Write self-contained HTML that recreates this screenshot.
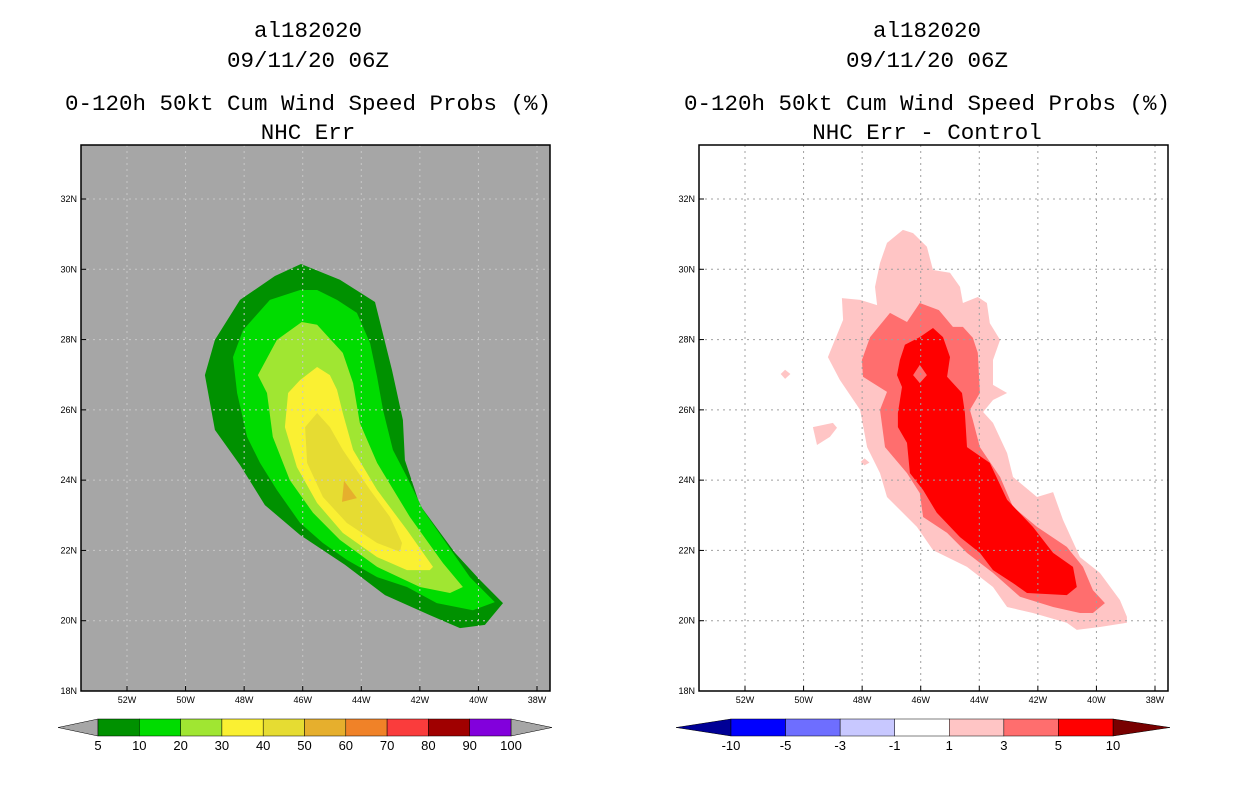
<!DOCTYPE html>
<html><head><meta charset="utf-8"><style>
body{margin:0;background:#fff;width:1236px;height:800px;overflow:hidden}
svg{display:block}
.t{font-family:"Liberation Mono",monospace;font-size:22.5px;fill:#000;text-anchor:middle}
.k{font-family:"Liberation Sans",sans-serif;font-size:9px;fill:#000}
.c{font-family:"Liberation Sans",sans-serif;font-size:13px;fill:#000;text-anchor:middle}
</style></head><body>
<svg id="s" width="1236" height="800">
<text class="t" x="308" y="37">al182020</text>
<text class="t" x="308" y="67">09/11/20 06Z</text>
<text class="t" x="308" y="110">0-120h 50kt Cum Wind Speed Probs (%)</text>
<text class="t" x="308" y="139">NHC Err</text>
<text class="t" x="927" y="37">al182020</text>
<text class="t" x="927" y="67">09/11/20 06Z</text>
<text class="t" x="927" y="110">0-120h 50kt Cum Wind Speed Probs (%)</text>
<text class="t" x="927" y="139">NHC Err - Control</text>
</svg>
<script>
// longitudes in degrees W, latitudes in degrees N
const lonTicks=[52,50,48,46,44,42,40,38];
const latTicks=[32,30,28,26,24,22,20,18];
const leftLevels=["5","10","20","30","40","50","60","70","80","90","100"];
const leftColors=["#009100","#00dc00","#a0e632","#faf032","#e6dc32","#e6af2d","#f08228","#fa3c3c","#a00000","#8200dc"];
const rightLevels=["-10","-5","-3","-1","1","3","5","10"];
const rightColors=["#0000ff","#6e6eff","#c8c8ff","#ffffff","#ffc5c5","#ff6e6e","#ff0000"];
const p5Lon=[46.06,46.95,48.14,49.0,49.34,49.0,48.14,47.29,46.09,44.56,43.19,41.66,40.63,39.78,39.16,39.95,40.8,42.0,42.51,42.58,42.95,43.53,44.73];
const p5Lat=[30.15,29.81,29.13,27.99,26.99,25.43,24.43,23.29,22.44,21.59,20.73,20.16,19.79,19.88,20.5,21.16,21.93,23.29,24.57,25.71,27.13,29.07,29.7];
const p10Lon=[46.09,47.12,48.04,48.38,48.24,47.9,47.46,46.88,46.09,45.31,44.49,43.46,42.44,41.42,40.19,39.44,40.29,41.89,42.44,42.92,43.26,43.46,43.7,44.15,44.83,45.51];
const p10Lat=[29.41,29.13,28.27,27.5,26.48,25.23,24.49,23.72,22.78,22.21,21.73,21.24,20.96,20.5,20.3,20.53,21.24,23.15,24.09,24.86,26.0,26.94,27.9,28.76,29.13,29.41];
const p20Lon=[46.03,46.88,47.53,47.22,47.02,46.44,45.65,44.73,43.46,42.0,40.97,40.53,41.21,42.34,43.46,44.05,44.28,44.63,45.51];
const p20Lat=[28.5,27.99,26.99,26.48,25.23,24.0,23.07,22.3,21.53,20.96,20.79,20.96,21.64,22.95,24.49,25.63,26.76,27.62,28.42];
const p30Lon=[45.51,46.09,46.5,46.61,46.2,45.51,44.63,43.46,42.44,41.66,41.55,42.44,43.46,44.28,44.63,44.83,45.07];
const p30Lat=[27.22,26.85,26.48,25.51,24.37,23.35,22.5,21.81,21.44,21.44,21.53,22.58,23.72,24.86,25.91,26.57,26.99];
const p40Lon=[45.51,45.92,45.85,45.31,44.49,43.46,42.68,42.61,43.02,43.7,44.63,45.07];
const p40Lat=[25.91,25.51,24.49,23.52,22.78,22.21,21.96,22.21,22.95,23.72,24.86,25.51];
const p50Lon=[44.59,44.66,44.15];
const p50Lat=[23.98,23.38,23.49];
const d1Lon=[46.61,47.15,47.39,47.56,47.49,48.07,48.69,48.65,49.17,48.76,48.07,47.83,47.39,47.15,46.13,45.58,44.42,43.53,43.05,42.17,41.01,40.67,39.88,38.96,38.96,39.2,39.88,40.56,41.14,41.48,42.03,42.85,43.05,43.53,43.87,43.53,43.05,43.53,43.53,43.29,43.64,43.74,44.05,44.56,44.66,45.0,45.58,45.79,46.26];
const d1Lat=[31.12,30.75,30.18,29.5,28.98,29.13,29.18,28.56,27.5,26.85,26.0,24.94,24.2,23.52,22.67,22.01,21.53,20.96,20.39,20.22,19.94,19.74,19.82,19.94,20.11,20.59,21.36,21.81,22.87,23.66,23.52,24.09,24.77,25.63,25.94,26.28,26.48,26.71,27.42,27.99,28.47,29.04,29.21,29.04,29.5,29.9,29.98,30.64,31.03];
const b1Lon=[49.68,49.0,48.86,49.1,49.54];
const b1Lat=[25.51,25.63,25.49,25.23,25.0];
const b2Lon=[50.78,50.63,50.45,50.63];
const b2Lat=[27.02,27.14,27.02,26.88];
const b3Lon=[48.05,47.92,47.75,47.92];
const b3Lat=[24.52,24.62,24.5,24.42];
const d3Lon=[46.03,46.47,47.05,47.73,48.01,47.97,47.15,47.39,47.22,46.47,46.03,45.92,45.1,44.42,43.53,42.61,41.48,40.56,40.12,39.71,40.12,40.46,41.01,42.03,42.85,43.29,43.98,44.22,44.32,43.98,44.05,44.22,44.56,44.9,45.38];
const d3Lat=[29.04,28.5,28.76,28.07,27.42,26.94,26.51,26.0,24.94,24.2,23.63,22.95,22.5,21.93,21.36,20.68,20.39,20.22,20.22,20.5,20.87,21.53,22.1,22.67,23.24,24.09,24.94,25.71,26.0,26.48,27.62,28.05,28.36,28.36,28.84];
const d5Lon=[45.58,46.03,46.54,46.71,46.81,46.64,46.78,46.78,46.47,46.37,45.92,45.45,44.66,43.98,43.53,42.85,42.37,41.01,40.67,40.8,41.48,42.17,43.05,43.64,44.42,44.49,44.59,45.1,45.0,45.24];
const d5Lat=[28.33,28.07,27.85,27.42,26.99,26.65,25.91,25.51,25.06,24.2,23.72,23.07,22.38,21.93,21.44,21.07,20.79,20.73,20.96,21.53,21.93,22.67,23.44,24.49,24.94,25.91,26.48,26.94,27.5,28.07];
const hLon=[46.03,46.26,46.03,45.79];
const hLat=[27.28,26.99,26.76,26.99];

const NS='http://www.w3.org/2000/svg';
const svg=document.getElementById('s');
function el(tag,attrs,parent){const e=document.createElementNS(NS,tag);for(const k in attrs)e.setAttribute(k,attrs[k]);(parent||svg).appendChild(e);return e;}
const PX=410/14, PY=492/14;
function mkx(x0){return lon=>x0+(52-lon)*PX;}
const yS=lat=>691-(lat-18)*PY;
function poly(g,xS,lons,lats,fill,name){
  const pts=lons.map((l,i)=>xS(l).toFixed(1)+','+yS(lats[i]).toFixed(1)).join(' ');
  const p=el('polygon',{points:pts,fill:fill},g);
  
  
}
function panel(x0,bg,gridCol,prefix,layers){
  const xS=mkx(x0+46);
  const g=el('g',{});
  
  
  el('rect',{x:x0,y:145,width:469,height:546,fill:bg},g);
  layers.forEach(L=>poly(g,xS,L[0],L[1],L[2],L[3]));
  lonTicks.forEach(l=>{
    const ln=el('line',{x1:xS(l),x2:xS(l),y1:145,y2:691,stroke:gridCol,'stroke-width':1,'stroke-dasharray':'2,4'},g);
    
    
    const t=el('text',{x:xS(l),y:703,class:'k','text-anchor':'middle'},g);t.textContent=l+'W';
    
    
    el('line',{x1:xS(l),x2:xS(l),y1:691,y2:686,stroke:'#000'},g);
  });
  latTicks.forEach(l=>{
    if(l>18){const ln=el('line',{x1:x0,x2:x0+469,y1:yS(l),y2:yS(l),stroke:gridCol,'stroke-width':1,'stroke-dasharray':'2,4'},g);
    
    }
    const t=el('text',{x:x0-4,y:yS(l)+3,class:'k','text-anchor':'end'},g);t.textContent=l+'N';
    
    
    el('line',{x1:x0,x2:x0+5,y1:yS(l),y2:yS(l),stroke:'#000'},g);
  });
  const fr=el('rect',{x:x0,y:145,width:469,height:546,fill:'none',stroke:'#000','stroke-width':1.5},g);
  
  
}
panel(81,'#a6a6a6','#c8c8c8','left',[
 [p5Lon,p5Lat,leftColors[0],'contour-5'],[p10Lon,p10Lat,leftColors[1],'contour-10'],[p20Lon,p20Lat,leftColors[2],'contour-20'],
 [p30Lon,p30Lat,leftColors[3],'contour-30'],[p40Lon,p40Lat,leftColors[4],'contour-40'],[p50Lon,p50Lat,leftColors[5],'contour-50']]);
panel(699,'#ffffff','#a0a0a0','right',[
 [d1Lon,d1Lat,rightColors[4],'diff-contour-1'],[b1Lon,b1Lat,rightColors[4],'diff-blob-1'],[b2Lon,b2Lat,rightColors[4],'diff-blob-2'],[b3Lon,b3Lat,rightColors[4],'diff-blob-3'],
 [d3Lon,d3Lat,rightColors[5],'diff-contour-3'],[d5Lon,d5Lat,rightColors[6],'diff-contour-5'],[hLon,hLat,rightColors[5],'diff-hole']]);

function colorbar(x1,x2,tl,tr,colors,lc,rc,labels,prefix){
  const g=el('g',{});
  
  
  const y0=719,y1=736,ym=727.5,w=(x2-x1)/colors.length;
  const a=el('polygon',{points:`${tl},${ym} ${x1},${y0} ${x1},${y1}`,fill:lc,stroke:'#000','stroke-width':0.5},g);
  
  const b=el('polygon',{points:`${tr},${ym} ${x2},${y0} ${x2},${y1}`,fill:rc,stroke:'#000','stroke-width':0.5},g);
  
  colors.forEach((c,i)=>{const r=el('rect',{x:x1+i*w,y:y0,width:w,height:y1-y0,fill:c,stroke:'#000','stroke-width':0.5},g);
    });
  labels.forEach((s,i)=>{const t=el('text',{x:x1+i*w,y:750,class:'c'},g);t.textContent=s;
    });
}
colorbar(98,511,58,552,leftColors,'#a6a6a6','#a6a6a6',leftLevels,'left');
colorbar(731,1113,676,1170,rightColors,'#000096','#780000',rightLevels,'right');
</script>
</body></html>
